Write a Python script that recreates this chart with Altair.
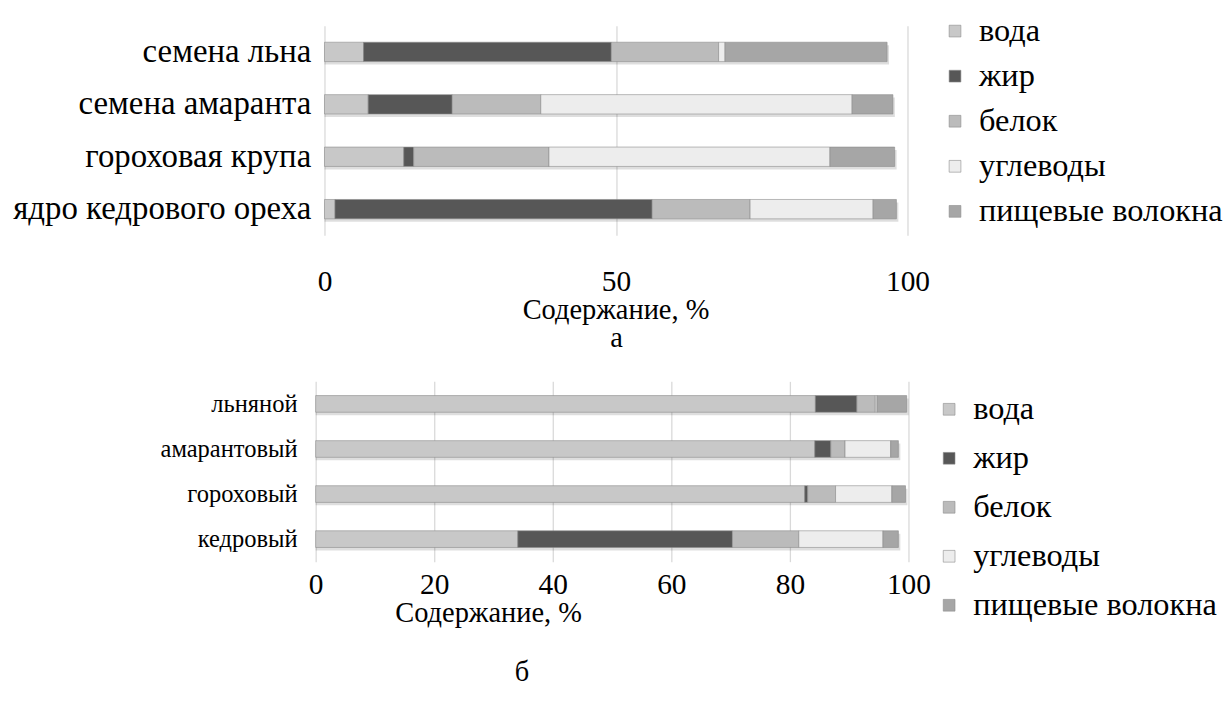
import altair as alt
import pandas as pd

components = ["вода", "жир", "белок", "углеводы", "пищевые волокна"]
component_colors = ["#c8c8c8", "#575757", "#bbbbbb", "#ededed", "#a6a6a6"]

# panel а: raw materials
top_categories = ["семена льна", "семена амаранта", "гороховая крупа", "ядро кедрового ореха"]
top_water = [6.7, 7.5, 13.6, 1.8]
top_fat = [42.5, 14.4, 1.7, 54.4]
top_protein = [18.4, 15.2, 23.2, 16.8]
top_carbs = [1.1, 53.4, 48.2, 21.1]
top_fiber = [27.8, 7.0, 11.1, 4.0]
top_ticks = [0, 50, 100]

# panel б: drinks
bottom_categories = ["льняной", "амарантовый", "гороховый\u00a0", "кедровый"]
bottom_water = [84.3, 84.2, 82.5, 34.1]
bottom_fat = [7.0, 2.7, 0.5, 36.2]
bottom_protein = [3.1, 2.4, 4.7, 11.2]
bottom_carbs = [0.3, 7.7, 9.5, 14.2]
bottom_fiber = [5.0, 1.3, 2.3, 2.6]
bottom_ticks = [0, 20, 40, 60, 80, 100]

FONT = "Liberation Serif"


def long_frame(categories, series):
    rows = []
    for ci, cat in enumerate(categories):
        for k, (name, vals) in enumerate(zip(components, series)):
            rows.append({"category": cat, "component": name, "idx": k, "value": vals[ci]})
    return pd.DataFrame(rows)


def panel(df, categories, ticks, width, height, domain_min, label_pad_y, label_fs_y,
          label_pad_x, title_pad_x, title_x, caption, caption_offset, caption_dx,
          legend_x, legend_y, legend_row_pad, anchor=False):
    y_enc = alt.Y(
        "category:N", sort=categories, title=None,
        scale=alt.Scale(paddingInner=0.63, paddingOuter=0.315),
        axis=alt.Axis(domain=False, ticks=False, tickSize=0, labelFontSize=label_fs_y,
                      labelFont=FONT, labelColor="#000000", labelPadding=label_pad_y,
                      labelLimit=500),
    )
    x_scale = alt.Scale(domain=[domain_min, 100], nice=False, zero=False)
    shadow = alt.Chart(df).transform_aggregate(
        total="sum(value)", groupby=["category"]
    ).mark_bar(color="#000000", opacity=0.13, xOffset=2, yOffset=3).encode(
        x=alt.X("total:Q", scale=x_scale,
                axis=alt.Axis(values=ticks, domain=False, ticks=False, tickSize=0,
                              grid=True, gridColor="#d9d9d9", gridWidth=1.3,
                              labelFontSize=30, labelFont=FONT, labelColor="#000000",
                              labelPadding=label_pad_x, titleFontSize=29,
                              titleFont=FONT, titleFontWeight="normal",
                              titleColor="#000000", titlePadding=title_pad_x,
                              titleX=title_x, titleAlign="center",
                              labelFlush=False),
                title="Содержание, %"),
        x2=alt.datum(0),
        y=y_enc,
    )
    bars = alt.Chart(df).mark_bar(strokeWidth=0.6, stroke="#8a8a8a").encode(
        x=alt.X("value:Q", stack="zero", scale=x_scale),
        y=y_enc,
        color=alt.Color(
            "component:N",
            scale=alt.Scale(domain=components, range=component_colors),
            legend=alt.Legend(
                title=None, orient="none", legendX=legend_x, legendY=legend_y,
                symbolType="square", symbolSize=144, symbolStrokeWidth=0.6,
                symbolStrokeColor="#8a8a8a", labelFontSize=33, labelFont=FONT,
                labelColor="#000000", rowPadding=legend_row_pad, labelOffset=8,
                labelLimit=500, direction="vertical", padding=0,
            ),
        ),
        order=alt.Order("idx:Q"),
    )
    layers = [shadow, bars]
    if anchor:
        # invisible frame corner that fixes where the plot area sits on the page
        layers.append(
            alt.Chart(pd.DataFrame({"k": [0]})).mark_rule(opacity=0, strokeWidth=0.01).encode(
                x=alt.value(-314), x2=alt.value(-300), y=alt.value(-11), y2=alt.value(-11)
            )
        )
    return alt.layer(*layers).properties(
        width=width, height=height,
        title=alt.TitleParams(caption, orient="bottom", fontSize=29, font=FONT,
                              fontWeight="normal", color="#000000",
                              offset=caption_offset, anchor="middle", dx=caption_dx),
    )


top_df = long_frame(top_categories, [top_water, top_fat, top_protein, top_carbs, top_fiber])
bottom_df = long_frame(bottom_categories, [bottom_water, bottom_fat, bottom_protein,
                                           bottom_carbs, bottom_fiber])

top = panel(top_df, top_categories, top_ticks, 604, 214, -1.513, 5, 33.5, 32, 0, 306,
            "а", 0, 5, 636, -11, 12, anchor=True)
bottom = panel(bottom_df, bottom_categories, bottom_ticks, 605, 184, 0, 19, 25, 8, 0, 176,
               "б", 32, -92, 630, 12, 16)

chart = alt.vconcat(top, bottom, spacing=149, bounds="flush").resolve_scale(
    color="independent", x="independent", y="independent"
).properties(
    padding={"left": 0, "top": 0, "right": 0, "bottom": 0},
).configure_view(stroke=None)

chart.save("out.html", embed_options={"renderer": "svg", "actions": False})
